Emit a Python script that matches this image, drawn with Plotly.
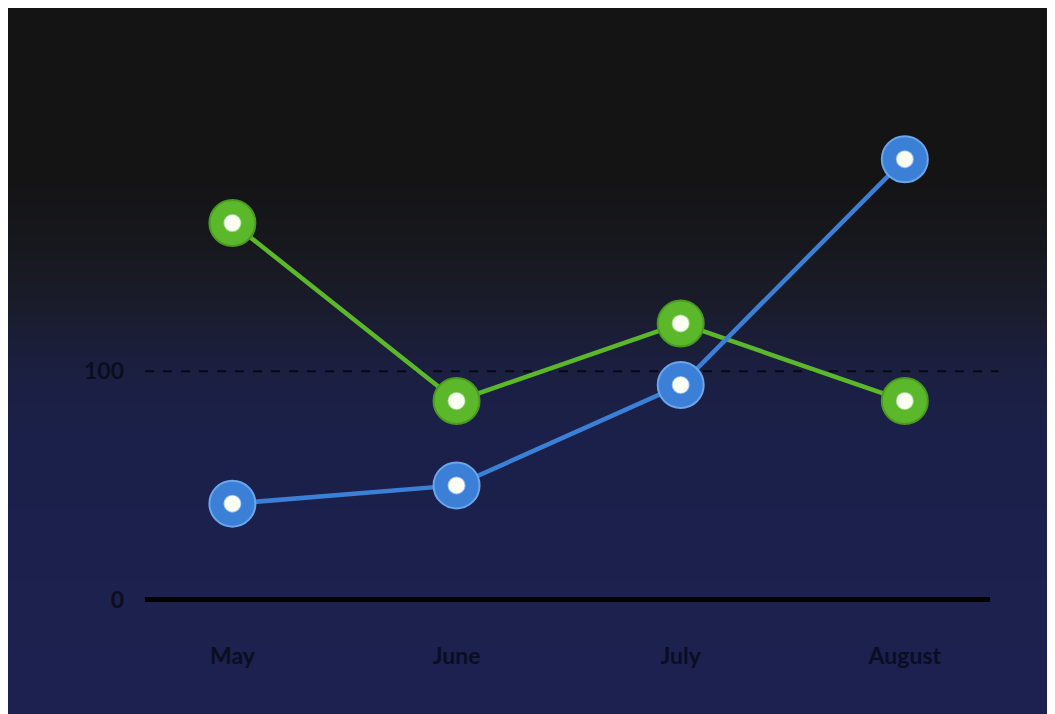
import plotly.graph_objects as go

months = ["May", "June", "July", "August"]
green_values = [165, 87, 121, 87]
blue_values = [42, 50, 94, 193]
y_ticks = [0, 100]

W, H = 1047, 706
ML, MR, MT, MB = 137, 65, 12, 110
plot_h = H - MT - MB

# background gradient stops: (pixel from top of figure, colour)
grad_stops = [(0, (20, 20, 20)), (170, (20, 20, 21)), (240, (23, 24, 30)), (300, (26, 28, 44)),
              (360, (27, 31, 64)), (430, (27, 32, 74)), (706, (28, 33, 80))]

def interp(py):
    for (p0, c0), (p1, c1) in zip(grad_stops[:-1], grad_stops[1:]):
        if p0 <= py <= p1:
            t = (py - p0) / (p1 - p0)
            return tuple(round(a + (b - a) * t) for a, b in zip(c0, c1))
    return grad_stops[-1][1]

def to_paper(py):
    return (H - MB - py) / plot_h

shapes = []
step = 6
for p in range(0, H, step):
    r, g, b = interp(p + step / 2)
    shapes.append(dict(type="rect", xref="paper", yref="paper", x0=-0.3, x1=1.3,
                       y0=to_paper(p + step + 1), y1=to_paper(p), fillcolor=f"rgb({r},{g},{b})",
                       line=dict(width=0), layer="below"))

green = "#5cb82b"
blue = "#3b80d6"

fig = go.Figure()
for vals, col, edge in [(green_values, green, "#4a9a22"), (blue_values, blue, "#6aa6ec")]:
    fig.add_trace(go.Scatter(x=months, y=vals, mode="lines+markers",
                             line=dict(color=col, width=4.5),
                             marker=dict(size=46, color=col, line=dict(color=edge, width=2)),
                             hoverinfo="skip", showlegend=False, cliponaxis=False))
    fig.add_trace(go.Scatter(x=months, y=vals, mode="markers",
                             marker=dict(size=16, color="#fbfff2", line=dict(color="rgba(255,255,255,0.5)", width=2)),
                             hoverinfo="skip", showlegend=False, cliponaxis=False))

# dashed reference line at 100
shapes.append(dict(type="line", xref="paper", yref="y", x0=0, x1=1.01, y0=100, y1=100,
                   line=dict(color="#08080e", width=2, dash="dash"), layer="below"))
# axis baseline at 0
shapes.append(dict(type="line", xref="paper", yref="y", x0=0, x1=1, y0=0, y1=0,
                   line=dict(color="#030305", width=5), layer="below"))

fig.update_layout(
    width=W, height=H,
    margin=dict(l=ML, r=MR, t=MT, b=MB),
    paper_bgcolor="#1c2150", plot_bgcolor="rgba(0,0,0,0)",
    shapes=shapes,
    font=dict(family="Lato", color="#0c0e22"),
)
fig.update_xaxes(type="category", range=[-0.39, 3.38], showgrid=False, zeroline=False,
                 showline=False, ticks="", ticklabelstandoff=36,
                 tickfont=dict(size=23, family="Lato", weight="bold", color="#0b0d22"))
fig.update_yaxes(range=[-2, 254], tickvals=y_ticks, ticktext=[str(v) for v in y_ticks],
                 showgrid=False, zeroline=False, showline=False, ticks="",
                 ticklabelstandoff=20,
                 tickfont=dict(size=23, family="Lato", weight="bold", color="#0b0d20"))

fig.write_html("out.html")
